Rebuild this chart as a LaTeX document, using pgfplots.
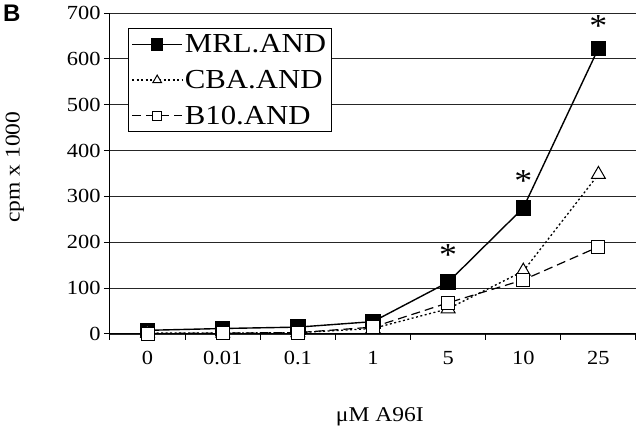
\documentclass[border=0pt]{standalone}
\usepackage{fontspec}
\setmainfont{Liberation Serif}[FakeStretch=1.12]
\newfontfamily\bsans{Liberation Sans}
\usepackage{pgfplots}
\pgfplotsset{compat=1.18}
\begin{document}
\begin{tikzpicture}
\begin{axis}[
  at={(0pt,0pt)}, anchor=south west,
  scale only axis, width=526pt, height=321pt,
  xmin=-0.5, xmax=6.5, ymin=0, ymax=700,
  axis x line*=bottom, axis y line*=left,
  axis line style={-, line width=1pt, black},
  ytick={0,100,...,700},
  ymajorgrids, grid style={black!85, line width=0.9pt},
  xtick={0,...,6}, xticklabels={0,0.01,0.1,1,5,10,25},
  major x tick style={draw=none},
  minor xtick={-0.5,0.5,...,6.5},
  minor x tick style={line width=1pt, black},
  major y tick style={line width=1pt, black},
  tick align=outside, major tick length=6pt, minor tick length=6pt,
  tick label style={font=\fontsize{20}{20}\selectfont},
  xticklabel style={yshift=-8pt},
  /pgf/number format/assume math mode=true,
  xlabel={μM A96I},
  xlabel style={at={(axis description cs:0.513,0)}, anchor=center, yshift=-83pt, font=\fontsize{21}{21}\selectfont},
  ylabel={cpm x 1000},
  ylabel style={at={(axis description cs:-0.1806,0.52)}, anchor=center, font=\fontsize{21}{21}\selectfont},
  legend style={at={(rel axis cs:0.0342,0.953)}, anchor=north west, draw=black, line width=1pt,
    font=\fontsize{27.5}{27.5}\selectfont, fill=white, inner xsep=3pt, inner ysep=4pt, row sep=12pt},
  legend cell align=left,
  legend image code/.code={
    \draw[mark repeat=2,mark phase=2,#1] plot coordinates {(0pt,0pt) (25pt,0pt) (50pt,0pt)};
  },
]
\addplot[black, line width=1.4pt, mark=square*, mark size=7pt, mark options={solid, fill=black},
  legend image post style={mark size=5.5pt}]
  coordinates {(0,8) (1,12) (2,15) (3,27) (4,113) (5,275) (6,623)};
\addlegendentry{MRL.AND}
\addplot[black, line width=1.3pt, dash pattern=on 2pt off 2.5pt, mark=triangle*, mark size=8pt, mark options={solid, fill=white, line width=1pt},
  legend image post style={mark size=5pt}]
  coordinates {(0,2) (1,2) (2,3) (3,12) (4,55) (5,137) (6,348)};
\addlegendentry{CBA.AND}
\addplot[black, line width=1.2pt, dash pattern=on 9pt off 5pt, mark=square*, mark size=6.5pt, mark options={solid, fill=white, line width=1pt},
  legend image post style={mark size=4.5pt}]
  coordinates {(0,1) (1,2) (2,3) (3,15) (4,68) (5,118) (6,190)};
\addlegendentry{B10.AND}
\node[font=\fontsize{32}{32}\selectfont] at (axis cs:4,113) [yshift=27pt] {*};
\node[font=\fontsize{32}{32}\selectfont] at (axis cs:5,275) [yshift=27pt] {*};
\node[font=\fontsize{32}{32}\selectfont] at (axis cs:6,623) [yshift=22pt] {*};
\end{axis}
\node[anchor=north west, font=\bsans\bfseries\fontsize{24}{24}\selectfont, inner sep=0pt] at (-107pt,329pt) {B};
\pgfresetboundingbox
\path (-110pt,-99pt) rectangle (530pt,334pt);
\end{tikzpicture}
\end{document}
